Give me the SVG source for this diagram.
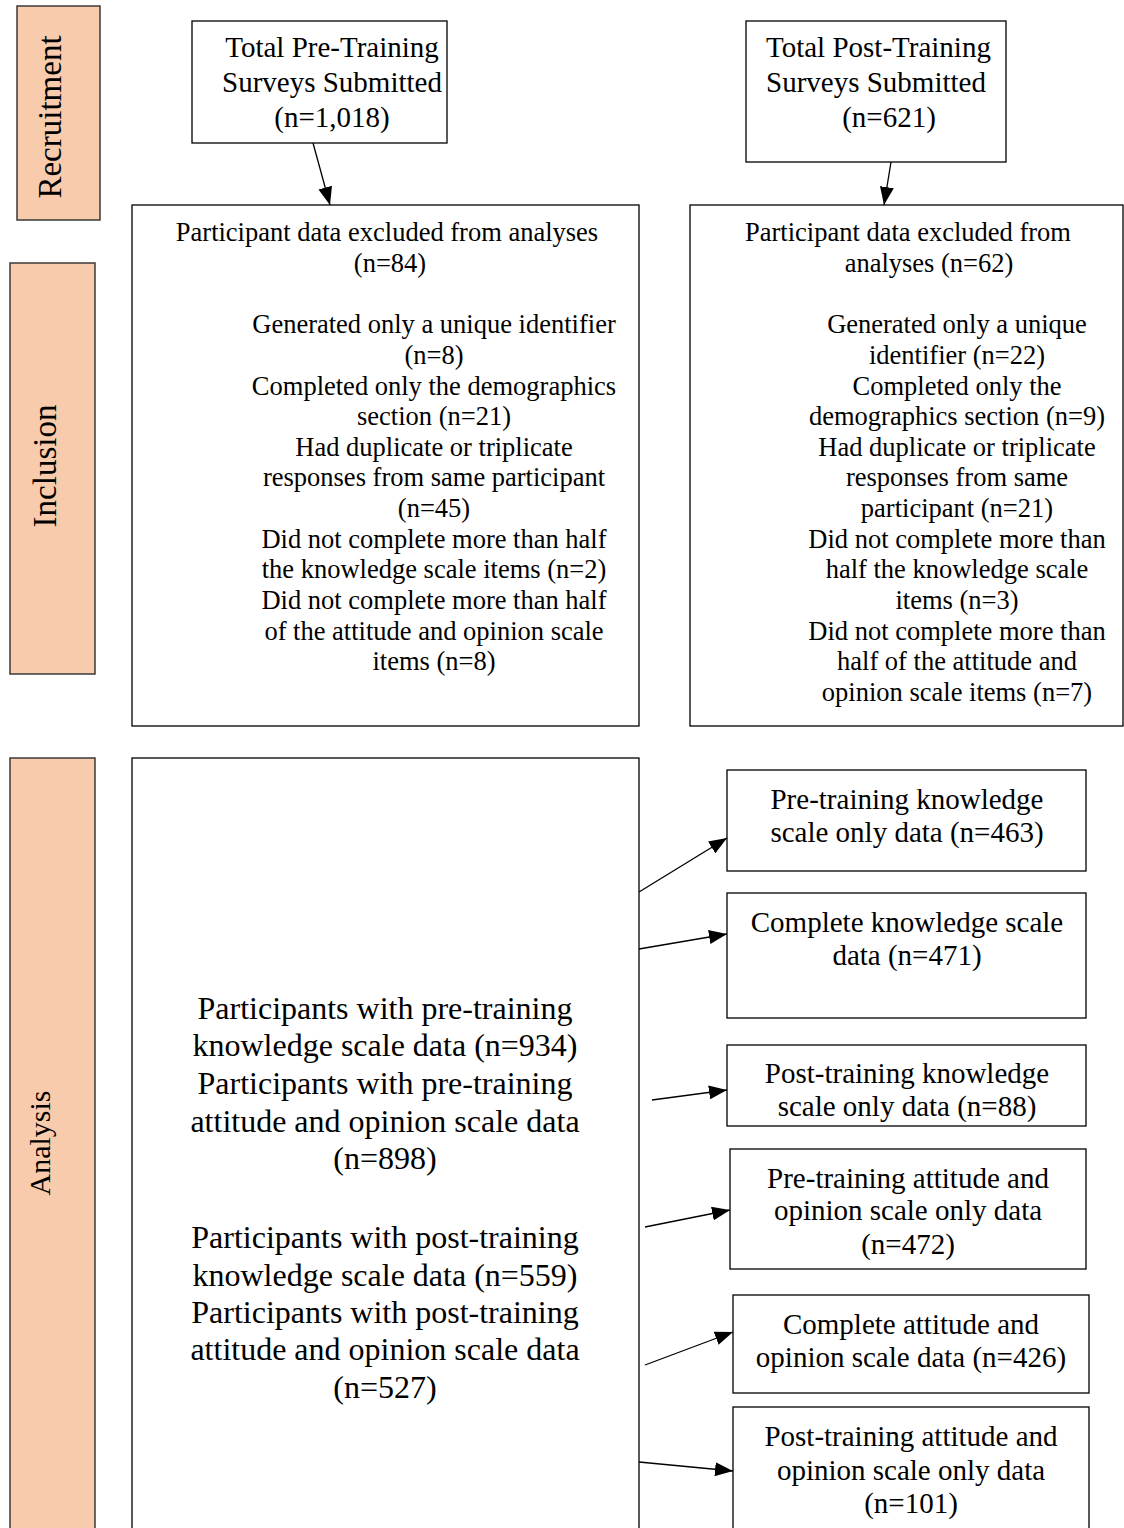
<svg xmlns="http://www.w3.org/2000/svg" width="1124" height="1528" viewBox="0 0 1124 1528">
<style>
text{font-family:"Liberation Serif","Times New Roman",serif;fill:#000}
.box{fill:#fff;stroke:#000;stroke-width:1.3}
.side{fill:#F8CBAD;stroke:#3a3a3a;stroke-width:1.5}
.t29{font-size:29px;text-anchor:middle}
.t26{font-size:26.5px;text-anchor:middle}
.t32{font-size:32px;text-anchor:middle}
.lbl{font-size:33px;text-anchor:middle}
.conn{stroke:#000;stroke-width:1.3;fill:none;marker-end:url(#ah)}
</style>
<defs>
<marker id="ah" markerUnits="userSpaceOnUse" markerWidth="20" markerHeight="14" refX="18" refY="7" orient="auto">
<path d="M0,0 L18,7 L0,14 Z" fill="#000"/>
</marker>
</defs>
<rect width="1124" height="1528" fill="#fff"/>

<g id="side-recruitment">
<rect class="side" x="17" y="6" width="83" height="214"/>
<text class="lbl" transform="translate(61,117) rotate(-90)">Recruitment</text>
</g>
<g id="side-inclusion">
<rect class="side" x="10" y="263" width="85" height="411"/>
<text class="lbl" transform="translate(56,466) rotate(-90)">Inclusion</text>
</g>
<g id="side-analysis">
<rect class="side" x="10" y="758" width="85" height="790"/>
<text class="lbl" style="font-size:30px" transform="translate(50,1143) rotate(-90)">Analysis</text>
</g>

<g id="pre-total">
<rect class="box" x="192" y="21" width="255" height="122"/>
<text class="t29" x="332" y="57">Total Pre-Training</text>
<text class="t29" x="332" y="92">Surveys Submitted</text>
<text class="t29" x="332" y="127">(n=1,018)</text>
</g>

<g id="post-total">
<rect class="box" x="746" y="21" width="260" height="141"/>
<text style="font-size:29px" x="766" y="57">Total Post-Training</text>
<text style="font-size:29px" x="766" y="92">Surveys Submitted</text>
<text class="t29" x="889" y="127">(n=621)</text>
</g>

<g id="pre-excluded">
<rect class="box" x="132" y="205" width="507" height="521"/>
<text class="t26" x="387" y="241">Participant data excluded from analyses</text>
<text class="t26" x="390" y="272">(n=84)</text>
<text class="t26" x="434" y="333">Generated only a unique identifier</text>
<text class="t26" x="434" y="364">(n=8)</text>
<text class="t26" x="434" y="395">Completed only the demographics</text>
<text class="t26" x="434" y="425">section (n=21)</text>
<text class="t26" x="434" y="456">Had duplicate or triplicate</text>
<text class="t26" x="434" y="486">responses from same participant</text>
<text class="t26" x="434" y="517">(n=45)</text>
<text class="t26" x="434" y="548">Did not complete more than half</text>
<text class="t26" x="434" y="578">the knowledge scale items (n=2)</text>
<text class="t26" x="434" y="609">Did not complete more than half</text>
<text class="t26" x="434" y="640">of the attitude and opinion scale</text>
<text class="t26" x="434" y="670">items (n=8)</text>
</g>

<g id="post-excluded">
<rect class="box" x="690" y="205" width="433" height="521"/>
<text class="t26" x="908" y="241">Participant data excluded from</text>
<text class="t26" x="929" y="272">analyses (n=62)</text>
<text class="t26" x="957" y="333">Generated only a unique</text>
<text class="t26" x="957" y="364">identifier (n=22)</text>
<text class="t26" x="957" y="395">Completed only the</text>
<text class="t26" x="957" y="425">demographics section (n=9)</text>
<text class="t26" x="957" y="456">Had duplicate or triplicate</text>
<text class="t26" x="957" y="486">responses from same</text>
<text class="t26" x="957" y="517">participant (n=21)</text>
<text class="t26" x="957" y="548">Did not complete more than</text>
<text class="t26" x="957" y="578">half the knowledge scale</text>
<text class="t26" x="957" y="609">items (n=3)</text>
<text class="t26" x="957" y="640">Did not complete more than</text>
<text class="t26" x="957" y="670">half of the attitude and</text>
<text class="t26" x="957" y="701">opinion scale items (n=7)</text>
</g>

<g id="analysis-main">
<rect class="box" x="132" y="758" width="507" height="790"/>
<text class="t32" x="385" y="1019">Participants with pre-training</text>
<text class="t32" x="385" y="1056">knowledge scale data (n=934)</text>
<text class="t32" x="385" y="1094">Participants with pre-training</text>
<text class="t32" x="385" y="1132">attitude and opinion scale data</text>
<text class="t32" x="385" y="1169">(n=898)</text>
<text class="t32" x="385" y="1248">Participants with post-training</text>
<text class="t32" x="385" y="1286">knowledge scale data (n=559)</text>
<text class="t32" x="385" y="1323">Participants with post-training</text>
<text class="t32" x="385" y="1360">attitude and opinion scale data</text>
<text class="t32" x="385" y="1398">(n=527)</text>
</g>

<g id="pre-knowledge-only">
<rect class="box" x="727" y="770" width="359" height="101"/>
<text class="t29" x="907" y="809">Pre-training knowledge</text>
<text class="t29" x="907" y="842">scale only data (n=463)</text>
</g>
<g id="complete-knowledge">
<rect class="box" x="727" y="893" width="359" height="125"/>
<text class="t29" x="907" y="932">Complete knowledge scale</text>
<text class="t29" x="907" y="965">data (n=471)</text>
</g>
<g id="post-knowledge-only">
<rect class="box" x="727" y="1045" width="359" height="81"/>
<text class="t29" x="907" y="1083">Post-training knowledge</text>
<text class="t29" x="907" y="1116">scale only data (n=88)</text>
</g>
<g id="pre-attitude-only">
<rect class="box" x="730" y="1149" width="356" height="120"/>
<text class="t29" x="908" y="1188">Pre-training attitude and</text>
<text class="t29" x="908" y="1220">opinion scale only data</text>
<text class="t29" x="908" y="1254">(n=472)</text>
</g>
<g id="complete-attitude">
<rect class="box" x="733" y="1295" width="356" height="98"/>
<text class="t29" x="911" y="1334">Complete attitude and</text>
<text class="t29" x="911" y="1367">opinion scale data (n=426)</text>
</g>
<g id="post-attitude-only">
<rect class="box" x="733" y="1407" width="356" height="140"/>
<text class="t29" x="911" y="1446">Post-training attitude and</text>
<text class="t29" x="911" y="1480">opinion scale only data</text>
<text class="t29" x="911" y="1513">(n=101)</text>
</g>

<g id="connectors">
<line class="conn" x1="313" y1="143" x2="330" y2="205"/>
<line class="conn" x1="891" y1="162" x2="884" y2="205"/>
<line class="conn" x1="639" y1="892" x2="727" y2="838"/>
<line class="conn" x1="639" y1="949" x2="727" y2="934"/>
<line class="conn" x1="652" y1="1100" x2="727" y2="1090"/>
<line class="conn" x1="645" y1="1227" x2="730" y2="1210"/>
<line class="conn" x1="645" y1="1365" x2="733" y2="1332"/>
<line class="conn" x1="639" y1="1462" x2="733" y2="1471"/>
</g>
</svg>
